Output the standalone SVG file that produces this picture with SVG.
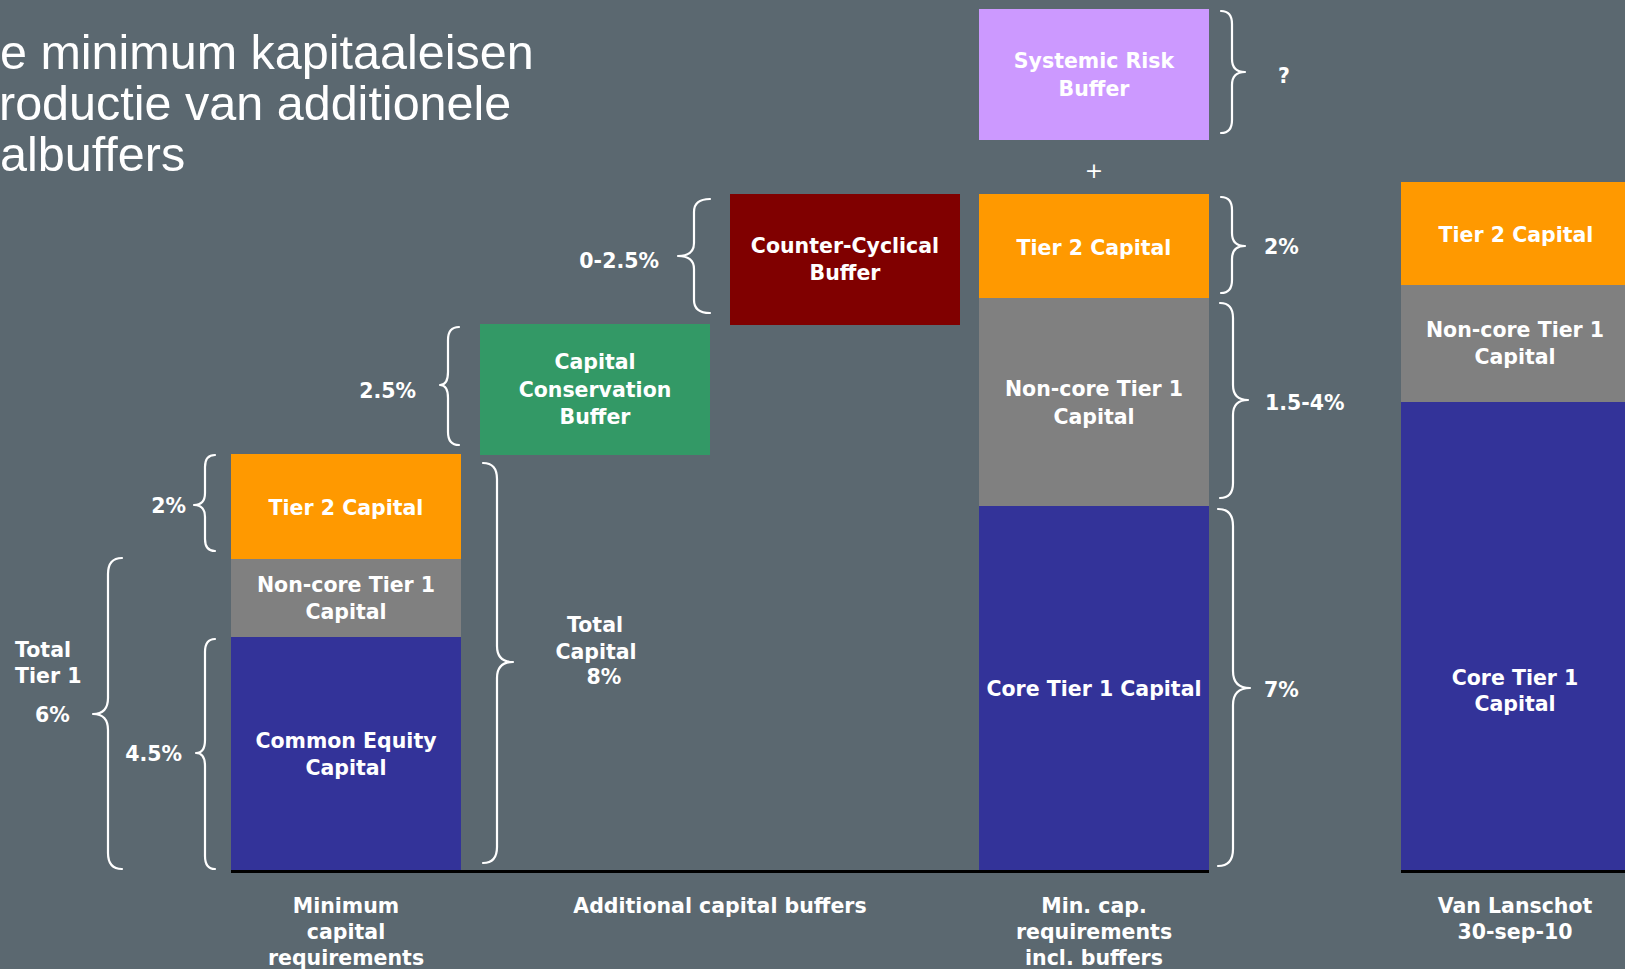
<svg xmlns="http://www.w3.org/2000/svg" width="1625" height="969" viewBox="0 0 1625 969">
<style>
.bg{fill:#5b6870}
.lbl{font-family:"DejaVu Sans",Verdana,sans-serif;font-weight:bold;font-size:20.5px;fill:#ffffff;text-anchor:middle}
.side{font-family:"DejaVu Sans",Verdana,sans-serif;font-weight:bold;font-size:20.5px;fill:#ffffff}
.title{font-family:"Liberation Sans",Arial,sans-serif;font-size:48.5px;fill:#ffffff}
.brace{fill:none;stroke:#ffffff;stroke-width:2.2;stroke-linecap:round;stroke-linejoin:round}
.t2{fill:#ff9900}.nc{fill:#808080}.ce{fill:#333399}.ccb{fill:#339966}.cyc{fill:#800000}.srb{fill:#cc99ff}
</style>
<rect class="bg" x="0" y="0" width="1625" height="969"/>
<g id="title">
<text class="title" x="0" y="69">e minimum kapitaaleisen</text>
<text class="title" x="-1" y="120">roductie van additionele</text>
<text class="title" x="0" y="171">albuffers</text>
</g>
<g id="col1-tier2"><rect class="t2" x="231" y="454" width="230" height="105"/><text class="lbl" x="346" y="515">Tier 2 Capital</text></g>
<g id="col1-noncore"><rect class="nc" x="231" y="559" width="230" height="78"/><text class="lbl" x="346" y="592">Non-core Tier 1</text><text class="lbl" x="346" y="619">Capital</text></g>
<g id="col1-common"><rect class="ce" x="231" y="637" width="230" height="233"/><text class="lbl" x="346" y="748">Common Equity</text><text class="lbl" x="346" y="775">Capital</text></g>
<g id="ccb"><rect class="ccb" x="480" y="324" width="230" height="131"/><text class="lbl" x="595" y="369">Capital</text><text class="lbl" x="595" y="397">Conservation</text><text class="lbl" x="595" y="424">Buffer</text></g>
<g id="cyclical"><rect class="cyc" x="730" y="194" width="230" height="131"/><text class="lbl" x="845" y="253">Counter-Cyclical</text><text class="lbl" x="845" y="280">Buffer</text></g>
<g id="systemic"><rect class="srb" x="979" y="9" width="230" height="131"/><text class="lbl" x="1094" y="68">Systemic Risk</text><text class="lbl" x="1094" y="96">Buffer</text></g>
<g id="plus"><text class="lbl" x="1094" y="178" style="font-weight:normal;font-size:22px">+</text></g>
<g id="col3-tier2"><rect class="t2" x="979" y="194" width="230" height="104"/><text class="lbl" x="1094" y="255">Tier 2 Capital</text></g>
<g id="col3-noncore"><rect class="nc" x="979" y="298" width="230" height="208"/><text class="lbl" x="1094" y="396">Non-core Tier 1</text><text class="lbl" x="1094" y="424">Capital</text></g>
<g id="col3-core"><rect class="ce" x="979" y="506" width="230" height="364"/><text class="lbl" x="1094" y="696">Core Tier 1 Capital</text></g>
<g id="col4-tier2"><rect class="t2" x="1401" y="182" width="230" height="103"/><text class="lbl" x="1516" y="242">Tier 2 Capital</text></g>
<g id="col4-noncore"><rect class="nc" x="1401" y="285" width="230" height="117"/><text class="lbl" x="1515" y="337">Non-core Tier 1</text><text class="lbl" x="1515" y="364">Capital</text></g>
<g id="col4-core"><rect class="ce" x="1401" y="402" width="230" height="468"/><text class="lbl" x="1515" y="685">Core Tier 1</text><text class="lbl" x="1515" y="711">Capital</text></g>
<g id="baseline"><rect x="231" y="870" width="978" height="3" fill="#000000"/><rect x="1401" y="870" width="224" height="3" fill="#000000"/></g>
<g id="connectors">
<path class="brace" d="M215,455 Q205,455 205,467 L205,493 Q205,505 194,505 Q205,505 205,517 L205,539 Q205,551 215,551"/>
<path class="brace" d="M122,558 Q108,558 108,574 L108,698 Q108,714 93,714 Q108,714 108,730 L108,853 Q108,869 122,869"/>
<path class="brace" d="M215,639 Q205,639 205,652 L205,740 Q205,753 196,753 Q205,753 205,766 L205,856 Q205,869 215,869"/>
<path class="brace" d="M459,327 Q448,327 448,340 L448,372 Q448,385 440,385 Q448,385 448,398 L448,432 Q448,445 459,445"/>
<path class="brace" d="M710,199 Q694,199 694,212 L694,243 Q694,256 678,256 Q694,256 694,269 L694,300 Q694,313 710,313"/>
<path class="brace" d="M483,463 Q497,463 497,479 L497,646 Q497,662 513,662 Q497,662 497,678 L497,847 Q497,863 483,863"/>
<path class="brace" d="M1221,11 Q1232,11 1232,24 L1232,59 Q1232,72 1245,72 Q1232,72 1232,85 L1232,120 Q1232,133 1221,133"/>
<path class="brace" d="M1221,197 Q1232,197 1232,210 L1232,233 Q1232,246 1245,246 Q1232,246 1232,259 L1232,280 Q1232,293 1221,293"/>
<path class="brace" d="M1220,303 Q1233,303 1233,318 L1233,385 Q1233,400 1248,400 Q1233,400 1233,415 L1233,483 Q1233,498 1220,498"/>
<path class="brace" d="M1218,509 Q1233,509 1233,526 L1233,671 Q1233,688 1250,688 Q1233,688 1233,705 L1233,849 Q1233,866 1218,866"/>
</g>
<g id="labels">
<text class="side" x="186" y="513" text-anchor="end">2%</text>
<text class="side" x="15" y="657">Total</text>
<text class="side" x="15" y="683">Tier 1</text>
<text class="side" x="35" y="722">6%</text>
<text class="side" x="182" y="761" text-anchor="end">4.5%</text>
<text class="side" x="416" y="398" text-anchor="end">2.5%</text>
<text class="side" x="659" y="268" text-anchor="end">0-2.5%</text>
<text class="lbl" x="595" y="632">Total</text>
<text class="lbl" x="596" y="659">Capital</text>
<text class="lbl" x="604" y="684">8%</text>
<text class="side" x="1278" y="83">?</text>
<text class="side" x="1264" y="254">2%</text>
<text class="side" x="1265" y="410">1.5-4%</text>
<text class="side" x="1264" y="697">7%</text>
<text class="lbl" x="346" y="913">Minimum</text>
<text class="lbl" x="346" y="939">capital</text>
<text class="lbl" x="346" y="965">requirements</text>
<text class="lbl" x="720" y="913">Additional capital buffers</text>
<text class="lbl" x="1094" y="913">Min. cap.</text>
<text class="lbl" x="1094" y="939">requirements</text>
<text class="lbl" x="1094" y="965">incl. buffers</text>
<text class="lbl" x="1515" y="913">Van Lanschot</text>
<text class="lbl" x="1515" y="939">30-sep-10</text>
</g>
</svg>
